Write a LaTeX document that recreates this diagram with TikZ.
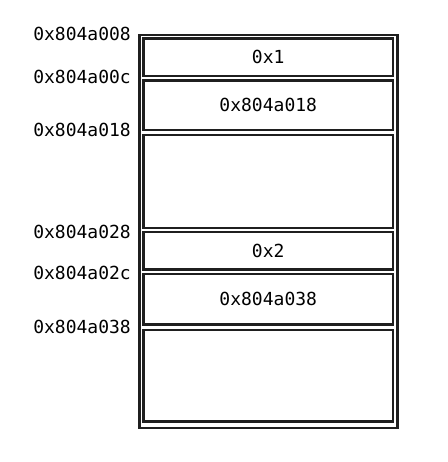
\documentclass[tikz,border=0pt]{standalone}
\usepackage{fontspec}
\setmonofont{DejaVu Sans Mono}
\begin{document}
\begin{tikzpicture}[x=1pt,y=-1pt,
  cell/.style={draw=black!88,line width=2.2pt,minimum width=249.5pt,inner sep=0pt,outer sep=0pt,
    font=\ttfamily\fontsize{18}{20}\selectfont},
  addr/.style={anchor=base east,inner sep=0pt,font=\ttfamily\fontsize{18}{20}\selectfont},
  frame/.style={draw=black!88,line width=2.2pt}]
\useasboundingbox (0,0) rectangle (447,462);
\draw[frame] (139.5,35) rectangle (397.5,428);
\node[cell,minimum height=37.5pt] (c1) at (268.25,57.25) {0x1};
\node[cell,minimum height=49.5pt] (c2) at (268.25,105.25) {0x804a018};
\node[cell,minimum height=93pt] (c3) at (268.25,181.5) {};
\node[cell,minimum height=37.5pt] (c4) at (268.25,250.75) {0x2};
\node[cell,minimum height=50.5pt] (c5) at (268.25,299.25) {0x804a038};
\node[cell,minimum height=91.5pt] (c6) at (268.25,375.75) {};
\node[addr] (a1) at (131,40.5) {0x804a008};
\node[addr] (a2) at (131,83.5) {0x804a00c};
\node[addr] (a3) at (131,136.5) {0x804a018};
\node[addr] (a4) at (131,238.5) {0x804a028};
\node[addr] (a5) at (131,279.5) {0x804a02c};
\node[addr] (a6) at (131,333.5) {0x804a038};
\end{tikzpicture}
\end{document}
